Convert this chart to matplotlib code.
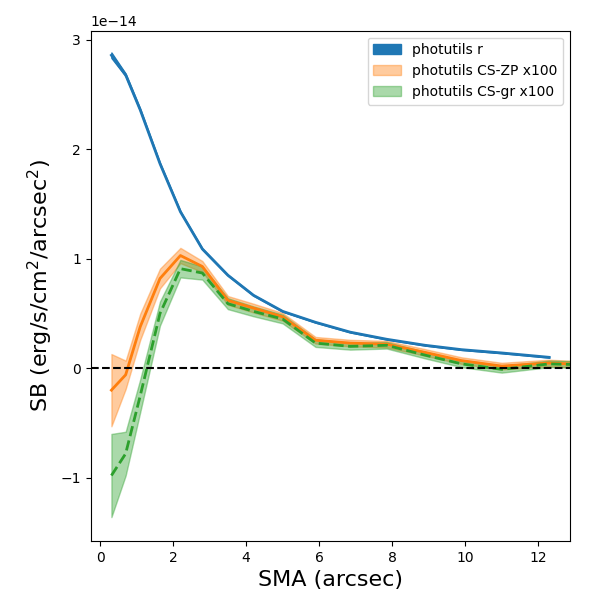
import numpy as np
import matplotlib
matplotlib.use('Agg')
import matplotlib.pyplot as plt

# SMA en arcsec, SB en unidades de 1e-14
sma_r = [0.31, 0.70, 1.1, 1.64, 2.2, 2.8, 3.5, 4.2, 5.0, 5.9, 6.85, 7.85, 8.9, 9.9, 11.0, 12.3]
sb_r = [2.86, 2.68, 2.36, 1.87, 1.43, 1.09, 0.85, 0.667, 0.52, 0.42, 0.33, 0.265, 0.21, 0.17, 0.14, 0.10]
err_r = [0.025, 0.012, 0.01, 0.008, 0.006, 0.005, 0.004, 0.004, 0.003, 0.003, 0.003, 0.003, 0.003, 0.003, 0.003, 0.003]

sma_cs = [0.31, 0.70, 1.1, 1.64, 2.2, 2.8, 3.5, 4.2, 5.0, 5.9, 6.85, 7.85, 8.9, 9.9, 11.0, 12.3, 13.5]
sb_zp = [-0.20, -0.06, 0.38, 0.82, 1.03, 0.93, 0.62, 0.55, 0.47, 0.256, 0.23, 0.22, 0.145, 0.07, 0.02, 0.048, 0.03]
err_zp = [0.33, 0.13, 0.12, 0.09, 0.07, 0.05, 0.04, 0.04, 0.035, 0.03, 0.03, 0.03, 0.03, 0.03, 0.03, 0.03, 0.03]
sb_gr = [-0.98, -0.78, -0.25, 0.50, 0.91, 0.87, 0.59, 0.52, 0.45, 0.23, 0.20, 0.21, 0.12, 0.04, -0.01, 0.04, 0.03]
err_gr = [0.38, 0.20, 0.15, 0.11, 0.08, 0.06, 0.05, 0.045, 0.04, 0.035, 0.03, 0.03, 0.03, 0.03, 0.03, 0.03, 0.03]

escala = 1e-14
sma_r = np.array(sma_r)
sb_r = np.array(sb_r) * escala
err_r = np.array(err_r) * escala
sma_cs = np.array(sma_cs)
sb_zp = np.array(sb_zp) * escala
err_zp = np.array(err_zp) * escala
sb_gr = np.array(sb_gr) * escala
err_gr = np.array(err_gr) * escala

fig, ax = plt.subplots(figsize=(6, 6), dpi=100)
fig.subplots_adjust(left=0.151, right=0.95, top=0.949, bottom=0.098)

ax.fill_between(sma_r, sb_r - err_r, sb_r + err_r, color='C0', label='photutils r')
ax.plot(sma_r, sb_r, color='C0', lw=2)

ax.fill_between(sma_cs, sb_zp - err_zp, sb_zp + err_zp, color='C1', alpha=0.4, label='photutils CS-ZP x100')
ax.plot(sma_cs, sb_zp, color='C1', lw=2)

ax.fill_between(sma_cs, sb_gr - err_gr, sb_gr + err_gr, color='C2', alpha=0.4, label='photutils CS-gr x100')
ax.plot(sma_cs, sb_gr, color='C2', lw=2, ls='--')

ax.axhline(0, color='k', ls='--', lw=1.5)

ax.set_xlim(-0.26, 12.87)
ax.set_ylim(-1.58e-14, 3.085e-14)
ax.set_xlabel('SMA (arcsec)', fontsize=16)
ax.set_ylabel('SB (erg/s/cm$^2$/arcsec$^2$)', fontsize=16)
ax.legend(loc='upper right')

plt.savefig('out.png')
